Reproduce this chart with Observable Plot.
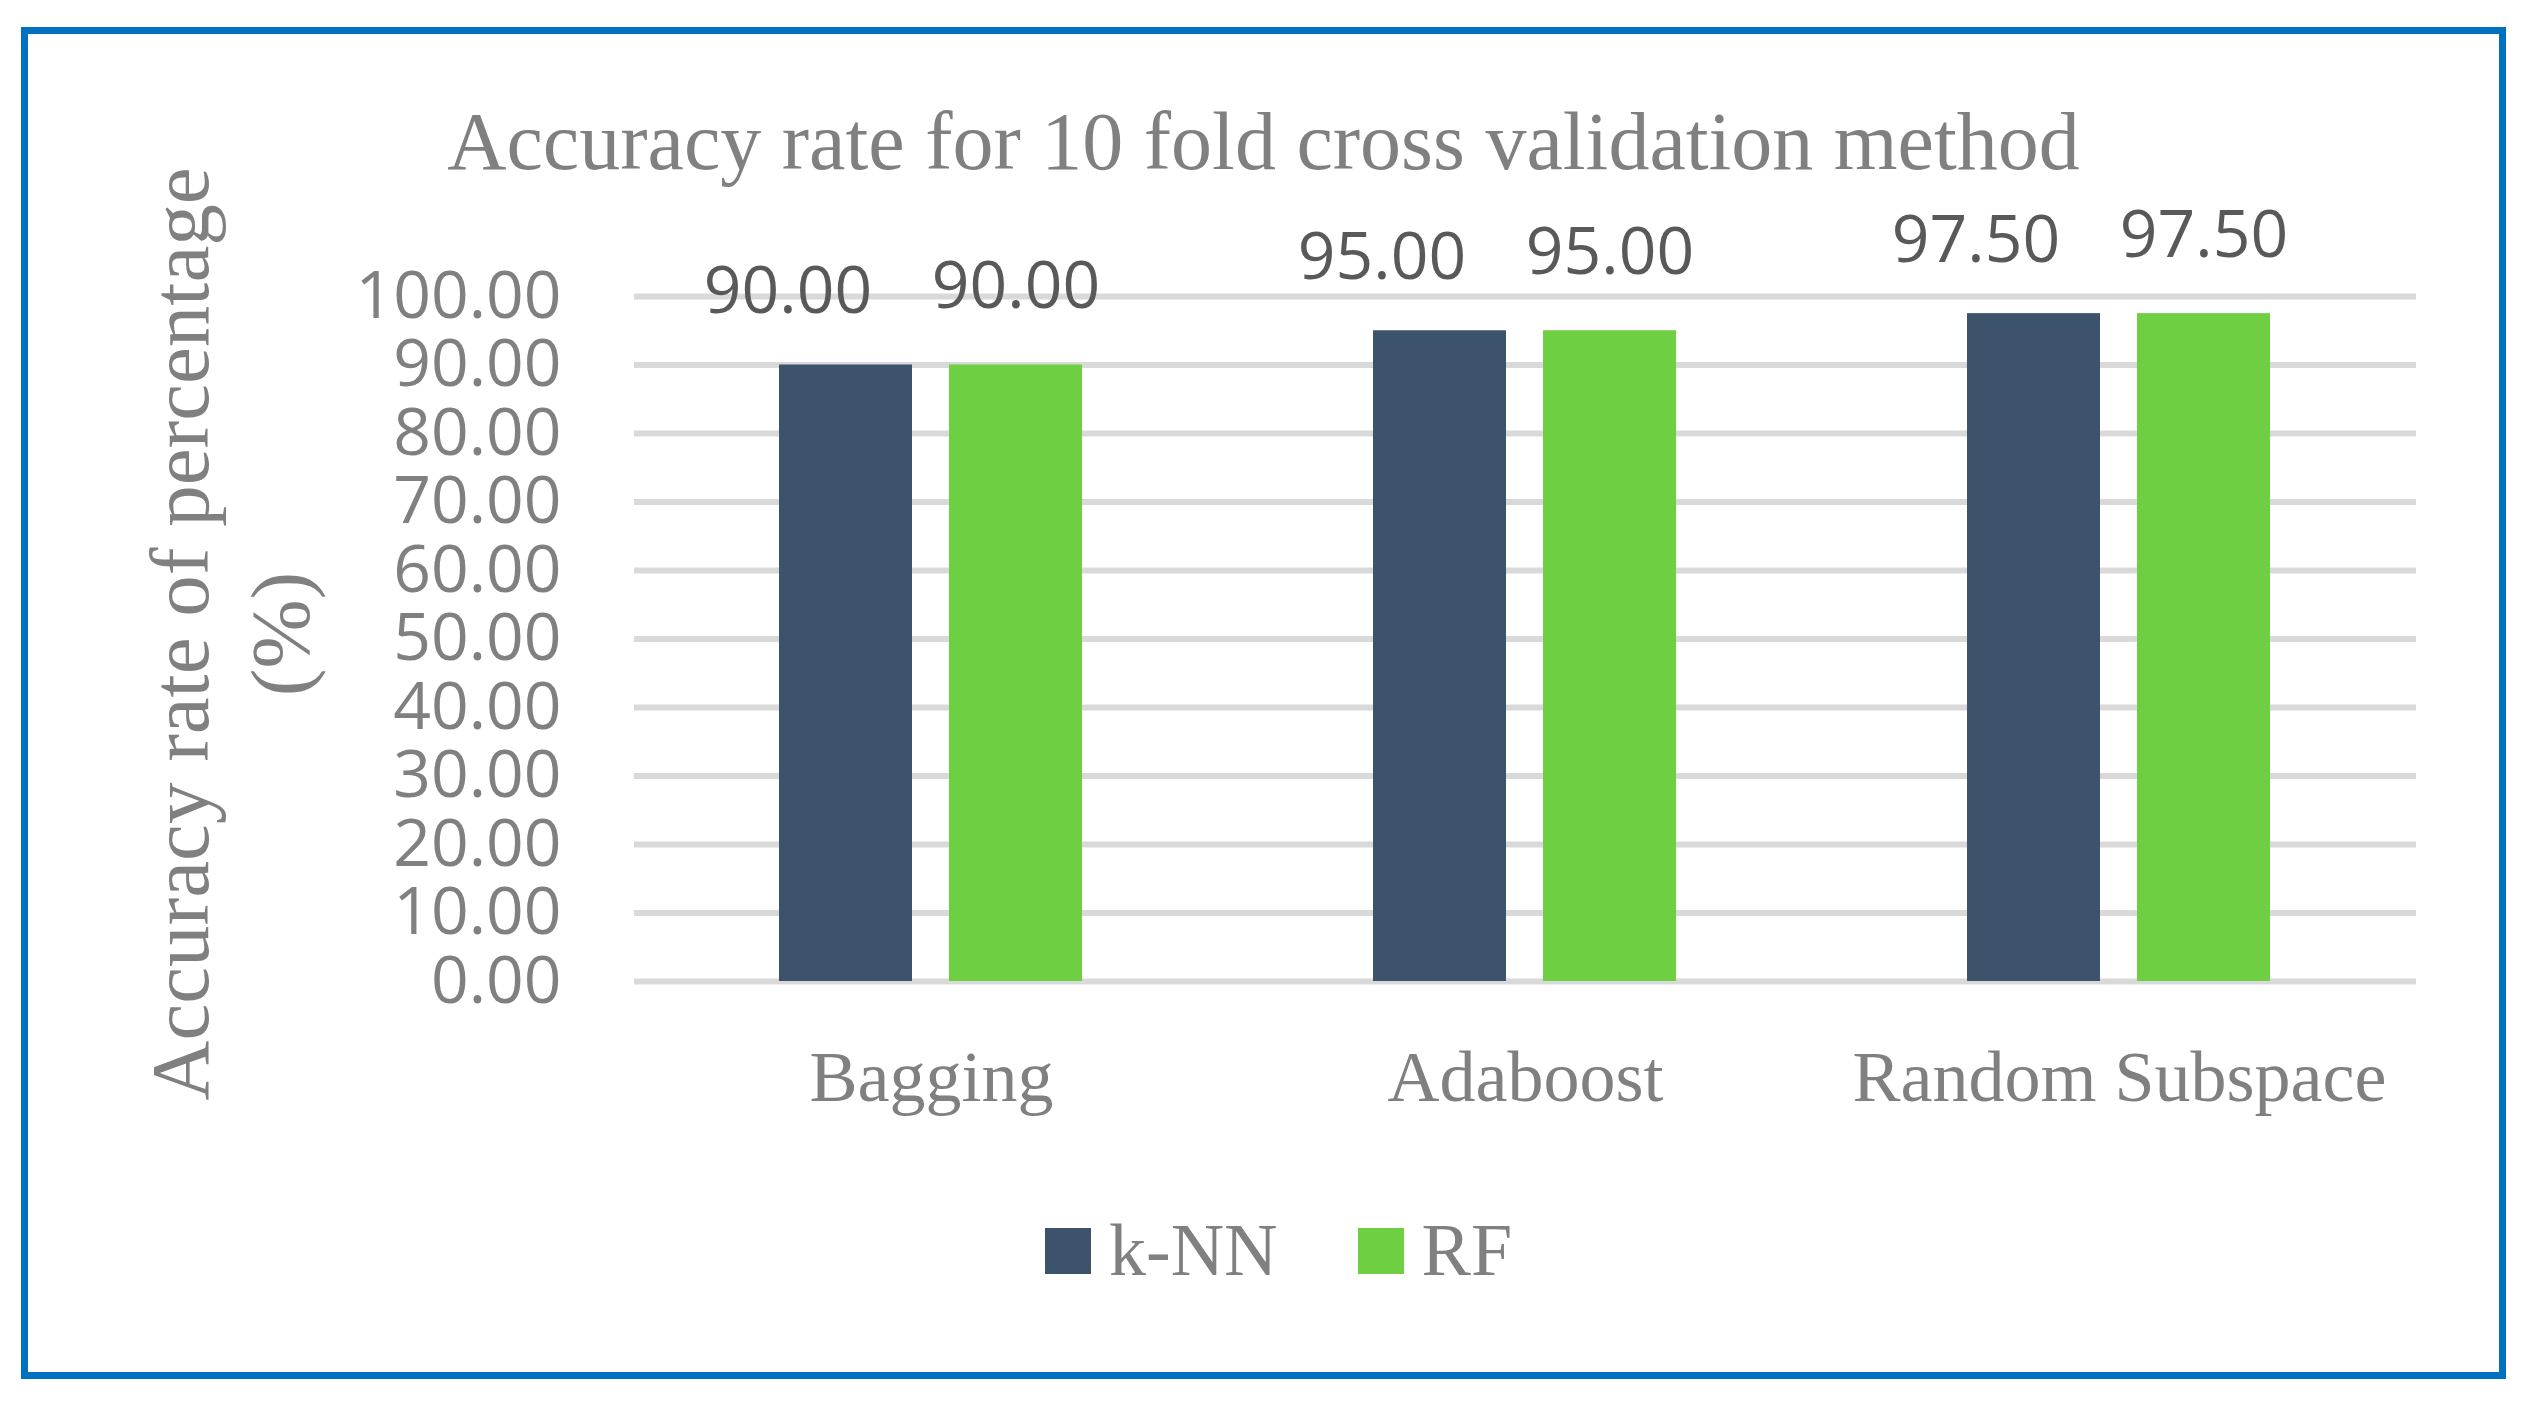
<!DOCTYPE html>
<html>
<head>
<meta charset="utf-8">
<script src="https://cdn.jsdelivr.net/npm/d3@7"></script>
<script src="https://cdn.jsdelivr.net/npm/@observablehq/plot@0.6"></script>
<style>
  html, body { margin: 0; padding: 0; background: #ffffff; overflow: hidden; }
  #page { position: relative; width: 2531px; height: 1404px; overflow: hidden; background: #ffffff; }
  #chart { position: absolute; left: 0; top: 0; }
  #legend { position: absolute; left: 1045px; top: 1208px; }
  #border { position: absolute; left: 21px; top: 27px; width: 2485px; height: 1352px;
            border: 7px solid #0070c0; box-sizing: border-box; pointer-events: none; }
  .lg-swatches-wrap .lg-swatch { margin-right: 80px !important; }
  .lg-swatch > svg { margin-right: 18px !important; }
  .lg-swatches { margin: 0 !important; }
</style>
</head>
<body>
<div id="page">
  <div id="chart"></div>
  <div id="legend"></div>
  <div id="border"></div>
</div>
<script>
const title = "Accuracy rate for 10 fold cross validation method";
const yLabel = "Accuracy rate of percentage\n(%)";
const categories = ["Bagging", "Adaboost", "Random Subspace"];
const models = ["k-NN", "RF"];
const knnValues = [90.00, 95.00, 97.50];
const rfValues = [90.00, 95.00, 97.50];
const yTicks = [0, 10, 20, 30, 40, 50, 60, 70, 80, 90, 100];
const colors = ["#3d536b", "#6ecf42"];

const table = [];
categories.forEach((c, i) => {
  table.push({method: c, model: models[0], acc: knnValues[i]});
  table.push({method: c, model: models[1], acc: rfValues[i]});
});

const fmt = d3.format(".2f");
const serif = "'Liberation Serif', 'Times New Roman', serif";
const sans = "'Open Sans', 'Noto Sans', sans-serif";
const first = () => categories[0];

const chart = Plot.plot({
  width: 2531,
  height: 1180,
  marginLeft: 633,
  marginRight: 115,
  marginTop: 296,
  marginBottom: 199,
  fx: {domain: categories, padding: 0, label: null},
  x: {domain: models, paddingInner: 0.216, paddingOuter: 0.845, axis: null},
  y: {domain: [0, 100], label: null},
  color: {domain: models, range: colors},
  marks: [
    Plot.ruleY(yTicks, {stroke: "#d9d9d9", strokeWidth: 6}),
    Plot.barY(table, {fx: "method", x: "model", y: "acc", fill: "model"}),
    Plot.text(table.filter(d => d.model === models[0]), {
      fx: "method", x: "model", y: "acc", text: d => fmt(d.acc),
      lineAnchor: "bottom", dx: -58, dy: -52,
      fontSize: 66, fontFamily: sans, fill: "#595959"
    }),
    Plot.text(table.filter(d => d.model === models[1]), {
      fx: "method", x: "model", y: "acc", text: d => fmt(d.acc),
      lineAnchor: "bottom", dy: -57,
      fontSize: 66, fontFamily: sans, fill: "#595959"
    }),
    Plot.axisY({
      ticks: yTicks, tickFormat: fmt, tickSize: 0, tickPadding: 73,
      fontSize: 66, fontFamily: sans, color: "#808080", label: null
    }),
    Plot.axisFx({
      anchor: "bottom", tickSize: 0, tickPadding: 68,
      fontSize: 72, fontFamily: serif, color: "#808080", label: null
    }),
    Plot.text([title], {
      fx: first, frameAnchor: "top", lineAnchor: "bottom",
      dx: 332, dy: -128, fontSize: 82, fontFamily: serif, fill: "#808080"
    }),
    Plot.text([yLabel], {
      fx: first, frameAnchor: "left", rotate: -90, lineAnchor: "bottom",
      textAnchor: "middle", lineHeight: 1.2, dx: -327, dy: -5,
      fontSize: 83, fontFamily: serif, fill: "#808080"
    })
  ]
});
document.getElementById("chart").appendChild(chart);

const legend = Plot.legend({
  color: {domain: models, range: colors},
  legend: "swatches",
  className: "lg",
  swatchSize: 46,
  style: {fontFamily: serif, fontSize: "74px", color: "#808080"}
});
document.getElementById("legend").appendChild(legend);
</script>
</body>
</html>
